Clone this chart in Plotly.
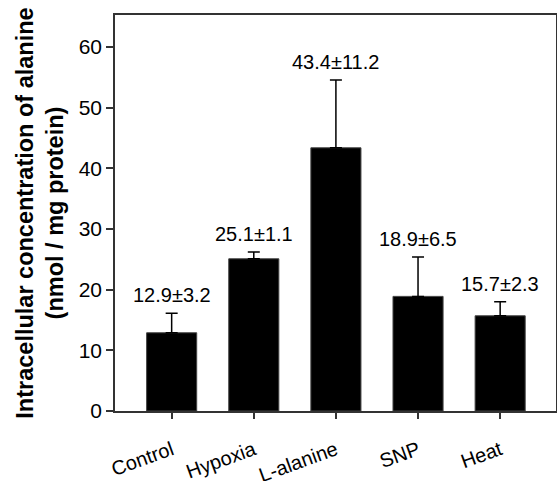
import plotly.graph_objects as go

categories = ["Control", "Hypoxia", "L-alanine", "SNP", "Heat"]
means = [12.9, 25.1, 43.4, 18.9, 15.7]
sds = [3.2, 1.1, 11.2, 6.5, 2.3]
y_ticks = [0, 10, 20, 30, 40, 50, 60]

FONT = "Arial, Liberation Sans, Helvetica, sans-serif"

fig = go.Figure()
fig.add_trace(go.Bar(
    x=categories,
    y=means,
    width=0.61,
    marker=dict(color="black", line=dict(color="#444444", width=1)),
    error_y=dict(type="data", symmetric=False, array=sds,
                 arrayminus=[0] * len(sds), color="black",
                 thickness=1.5, width=6),
    showlegend=False,
))

for c, m, s in zip(categories, means, sds):
    fig.add_annotation(x=c, y=m + s, text=f"{m}\u00b1{s}", showarrow=False,
                       yanchor="middle", yshift=18,
                       font=dict(family=FONT, size=20, color="black"))

fig.update_layout(
    width=557, height=481,
    margin=dict(l=115, r=1, t=15, b=70),
    paper_bgcolor="white", plot_bgcolor="white",
    font=dict(family=FONT, color="black"),
    bargap=0.39,
)
fig.update_xaxes(
    range=[-0.69, 4.68], automargin=False,
    showline=True, linecolor="#333333", linewidth=1.5, mirror=True,
    ticks="outside", ticklen=6, tickcolor="#333333", tickwidth=1.5,
    tickangle=-20, tickfont=dict(family=FONT, size=20, color="black"),
    ticklabelstandoff=12,
    showgrid=False, zeroline=False,
)
fig.update_yaxes(
    range=[0, 65.3], automargin=False,
    tickvals=y_ticks,
    showline=True, linecolor="#333333", linewidth=1.5, mirror=True,
    ticks="outside", ticklen=7, tickcolor="#333333", tickwidth=1.5,
    tickfont=dict(family=FONT, size=21, color="black"),
    showgrid=False, zeroline=False,
    title=dict(text="<b>Intracellular concentration of alanine<br>(nmol / mg protein)</b>",
               font=dict(family=FONT, size=23.5, color="black"), standoff=8),
)

fig.write_html("out.html", config={"displayModeBar": False},
               post_script="document.body.style.margin='0';document.body.style.overflow='hidden';")
